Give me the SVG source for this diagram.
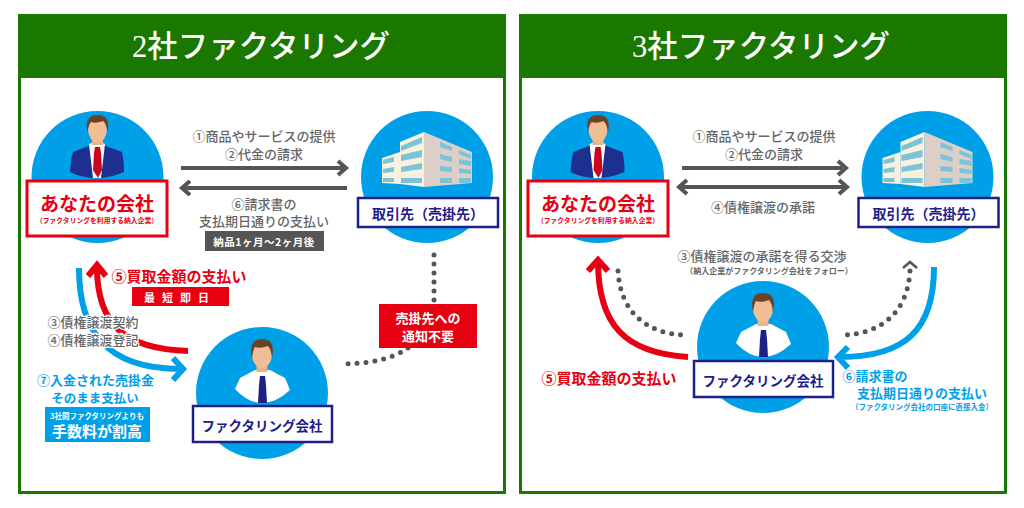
<svg xmlns="http://www.w3.org/2000/svg" width="1024" height="508" viewBox="0 0 1024 508">
<style>
text{font-family:"Noto Sans CJK JP","Noto Sans",sans-serif;text-anchor:middle;dominant-baseline:central;font-weight:700}
.ttl{font-family:"Liberation Serif","Noto Sans CJK JP",serif;font-size:30.500px;fill:#fff;font-weight:500}
.g{fill:#666;font-size:13px;font-weight:500}
.gs{fill:#666;font-size:8px}
.r{fill:#e60012;font-size:15px}
.b{fill:#00a0e9}
.n{fill:#1d2088}
.w{fill:#fff}
.halo{paint-order:stroke;stroke:#fff;stroke-width:2.5px}
.circ{fill:#00a0e9}
.rbox{fill:#fff;stroke:#e60012;stroke-width:3}
.nbox{fill:#fff;stroke:#1d2088;stroke-width:2.5}
.arrow{fill:none;stroke:#555;stroke-width:4}
.ra{fill:none;stroke:#e60012;stroke-width:6}
.ba{fill:none;stroke:#00a0e9;stroke-width:6}
.dot{fill:none;stroke:#555;stroke-width:5;stroke-linecap:round;stroke-dasharray:0 9}
</style>
<defs>
<g id="boss">
<path d="M70 172Q71 158 73 152L91 145H103L122 152Q124 160 124 172Q110 178 97 178Q82 178 70 172Z" fill="#1d2f8f"/>
<path d="M89 144L97 141L105 144L101 178H93Z" fill="#fff"/>
<path d="M95 147H100L101 153L102 170L98 178L93 170L94 153Z" fill="#c9061c"/>
<rect x="92" y="134" width="11" height="11" fill="#e8b48c"/>
<ellipse cx="97.500" cy="129" rx="9.500" ry="13.500" fill="#f0bd95"/>
<path d="M87.500 132Q84 115 97.500 115Q111 115 107.500 132Q106.500 124 103 121Q96 124 91 122Q88.500 125 87.500 132Z" fill="#6b4226"/>
</g>
<g id="staff">
<path d="M235 389L240 378L255 370H270L285 378L290 390Q276 403 262 403Q248 403 235 389Z" fill="#fff"/>
<path d="M260 376H265L266 385L267 403H258L259 385Z" fill="#1d2088"/>
<rect x="256.500" y="360" width="11" height="12" fill="#e8b48c"/>
<ellipse cx="262" cy="354" rx="10" ry="14" fill="#f0bd95"/>
<path d="M252 358Q248 339 262 339Q276 339 272 358Q271 349 268 346Q260 349 255 347Q253 350 252 358Z" fill="#6b4226"/>
</g>
<g id="bldg">
<path d="M400 142L424 132V187L400 184Z" fill="#f7f1de"/>
<path d="M424 132L472 152V183L424 187Z" fill="#dccfc8"/>
<path d="M382 158L400 152V184L382 183Z" fill="#f7f1de"/>
<path d="M401 146L422 137V143L401 151ZM401 155L422 150V157L401 161ZM401 167L422 163V169L401 172ZM401 178H422V183H401ZM383 160L394 157V162L383 164ZM383 169L394 167V172L383 173ZM383 178H394V182H383Z" fill="#7cc3d8"/>
<path d="M440 142L452 147V151L440 147ZM440 154L452 157V162L440 159ZM440 166L452 167V172L440 171ZM440 178H452V183H440ZM459 150L471 155V159L459 154ZM459 159L471 161V166L459 164ZM459 168L471 170V174L459 173ZM459 178H471V183H459Z" fill="#7cc3d8"/>
</g>
</defs>
<rect width="1024" height="508" fill="#fff"/>

<g id="panel-left">
<rect x="19.500" y="15.500" width="485" height="477" fill="#fff" stroke="#1a7800" stroke-width="3"/>
<rect x="18" y="14" width="488" height="64" fill="#1a7800"/>
<text class="ttl" x="261" y="47">2社ファクタリング</text>
</g>
<g id="panel-right">
<rect x="520.500" y="15.500" width="485" height="477" fill="#fff" stroke="#1a7800" stroke-width="3"/>
<rect x="519" y="14" width="488" height="64" fill="#1a7800"/>
<text class="ttl" x="761" y="47">3社ファクタリング</text>
</g>

<g id="connectors">
<path class="arrow" d="M181 168H345M338 161L346 168L338 175"/>
<path class="arrow" d="M347 188H183M190 181L182 188L190 195"/>
<path class="ba" d="M79 268C79 330 105 369 181 369M173 358L183 369L173 380"/>
<path class="ra" d="M188 351C125 349 97 325 97 267M88 276L97 265L106 276"/>
<path class="dot" d="M434 255V302"/>
<path class="dot" d="M408 348Q385 364 340 364"/>

<path class="arrow" d="M682 168H845M838 161L846 168L838 175"/>
<path class="arrow" d="M680 187H846M687 180L679 187L687 194M839 180L847 187L839 194"/>
<path class="ra" d="M688 357C625 353 598 325 598 261M588 271L598 260L608 271"/>
<path class="ba" d="M934 267C934 330 905 357 840 357M848 347L838 357L848 368"/>
<path class="dot" d="M618 271C620 310 645 335 688 335"/>
<path class="dot" d="M910 271C908 310 883 335 840 335"/>
<path d="M903 268L910 262L917 268" fill="none" stroke="#555" stroke-width="2.500"/>
</g>

<g id="node-you-left">
<circle class="circ" cx="97.500" cy="177" r="66"/>
<use href="#boss"/>
<rect class="rbox" x="27" y="181" width="140" height="55"/>
<text x="97" y="202" fill="#e60012" font-size="19">あなたの会社</text>
<text x="97" y="220" fill="#e60012" font-size="6.800">（ファクタリングを利用する納入企業）</text>
</g>
<g id="node-client-left">
<circle class="circ" cx="427" cy="177" r="66"/>
<use href="#bldg"/>
<rect class="nbox" x="358" y="198" width="140" height="29"/>
<text class="n" x="428" y="213" font-size="14">取引先（売掛先）</text>
</g>
<g id="node-factor-left">
<circle class="circ" cx="262" cy="393" r="66"/>
<use href="#staff"/>
<rect class="nbox" x="193" y="406" width="139" height="36"/>
<text class="n" x="262" y="425" font-size="13.500">ファクタリング会社</text>
</g>
<g id="labels-left">
<text class="g" x="264" y="135">①商品やサービスの提供</text>
<text class="g" x="264" y="153">②代金の請求</text>
<text class="g" x="264" y="203">⑥請求書の</text>
<text class="g" x="264" y="220">支払期日通りの支払い</text>
<rect x="205" y="231" width="119" height="20" fill="#555"/>
<text class="w" x="264" y="241" font-size="10.500" font-weight="500" letter-spacing="0.500">納品1ヶ月～2ヶ月後</text>
<text class="r" x="179" y="275">⑤買取金額の支払い</text>
<rect x="132" y="287" width="97" height="19" fill="#e60012"/>
<text class="w" x="180" y="297" font-size="11" letter-spacing="7">最短即日</text>
<text class="g halo" x="93" y="321">③債権譲渡契約</text>
<text class="g halo" x="93" y="339">④債権譲渡登記</text>
<text class="b" x="95.500" y="379" font-size="13">⑦入金された売掛金</text>
<text class="b" x="95" y="397" font-size="12.500">そのまま支払い</text>
<rect x="45" y="407" width="105" height="35" fill="#00a0e9"/>
<text class="w" x="97" y="415" font-size="7.500">3社間ファクタリングよりも</text>
<text class="w" x="97" y="430" font-size="15">手数料が割高</text>
<rect x="379" y="304" width="98" height="44" fill="#e60012"/>
<text class="w" x="428" y="317" font-size="13" font-weight="500">売掛先への</text>
<text class="w" x="428" y="335" font-size="13" font-weight="500">通知不要</text>
</g>

<g id="node-you-right">
<circle class="circ" cx="598" cy="177" r="66"/>
<use href="#boss" x="500.500"/>
<rect class="rbox" x="528" y="181" width="140" height="55"/>
<text x="598" y="202" fill="#e60012" font-size="19">あなたの会社</text>
<text x="598" y="220" fill="#e60012" font-size="6.800">（ファクタリングを利用する納入企業）</text>
</g>
<g id="node-client-right">
<circle class="circ" cx="927.500" cy="177" r="66"/>
<use href="#bldg" x="500.500"/>
<rect class="nbox" x="858.500" y="198" width="140" height="29"/>
<text class="n" x="928.500" y="213" font-size="14">取引先（売掛先）</text>
</g>
<g id="node-factor-right">
<circle class="circ" cx="763" cy="347" r="66"/>
<use href="#staff" x="501" y="-46"/>
<rect class="nbox" x="694" y="361" width="139" height="36"/>
<text class="n" x="763" y="380" font-size="13.500">ファクタリング会社</text>
</g>
<g id="labels-right">
<text class="g" x="764" y="135">①商品やサービスの提供</text>
<text class="g" x="764" y="153">②代金の請求</text>
<text class="g" x="763" y="206">④債権譲渡の承諾</text>
<text class="g" x="762" y="255">③債権譲渡の承諾を得る交渉</text>
<text class="gs" x="769" y="270">（納入企業がファクタリング会社をフォロー）</text>
<text class="r" x="609" y="377">⑤買取金額の支払い</text>
<text class="b" x="875" y="375" font-size="13">⑥請求書の</text>
<text class="b" x="922" y="392" font-size="13">支払期日通りの支払い</text>
<text class="b" x="922" y="406" font-size="7.500">（ファクタリング会社の口座に直接入金）</text>
</g>
</svg>
